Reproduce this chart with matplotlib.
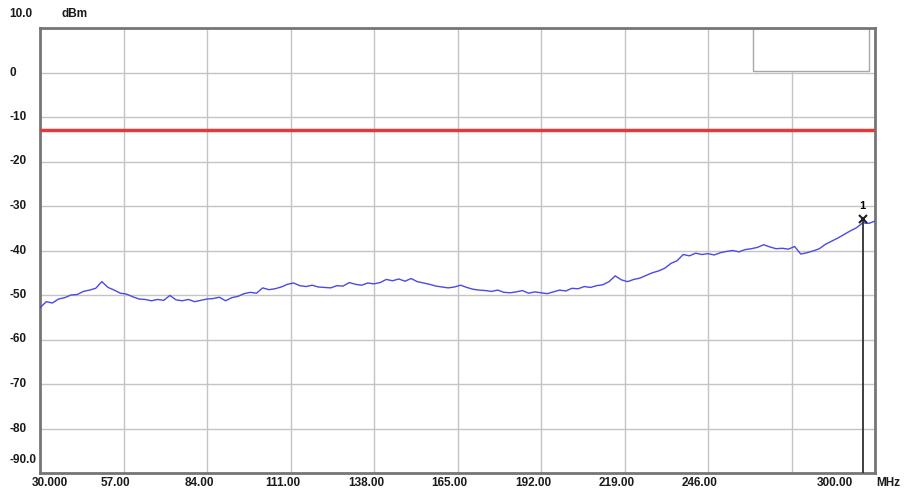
import numpy as np
import matplotlib
matplotlib.use("Agg")
import matplotlib.pyplot as plt
from matplotlib.patches import Rectangle
import matplotlib.transforms as mtransforms

# ---- data ----
freq_start, freq_stop, freq_step = 30.0, 300.0, 2.0
level_dbm = [
    -52.9, -51.5, -51.8, -50.9, -50.6, -50.0, -49.9, -49.2, -48.9, -48.5,
    -47.0, -48.3, -48.9, -49.6, -49.8, -50.4, -50.9, -51.0, -51.3, -51.0,
    -51.2, -50.1, -51.1, -51.3, -51.0, -51.5, -51.2, -50.9, -50.8, -50.5,
    -51.3, -50.6, -50.3, -49.7, -49.4, -49.6, -48.4, -48.8, -48.6, -48.2,
    -47.6, -47.3, -47.9, -48.1, -47.8, -48.2, -48.3, -48.4, -47.9, -48.0,
    -47.2, -47.6, -47.8, -47.3, -47.5, -47.2, -46.5, -46.8, -46.4, -46.9,
    -46.3, -47.0, -47.3, -47.6, -48.0, -48.2, -48.4, -48.2, -47.8, -48.3,
    -48.7, -48.9, -49.0, -49.2, -48.9, -49.4, -49.5, -49.3, -49.0, -49.6,
    -49.3, -49.5, -49.7, -49.3, -48.9, -49.1, -48.5, -48.6, -48.1, -48.3,
    -47.9, -47.7, -47.0, -45.7, -46.6, -47.0, -46.5, -46.2, -45.6, -45.0,
    -44.6, -44.0, -42.9, -42.3, -40.9, -41.2, -40.6, -40.9, -40.7, -41.0,
    -40.5, -40.2, -40.0, -40.3, -39.8, -39.6, -39.3, -38.7, -39.2, -39.6,
    -39.5, -39.7, -39.1, -40.8, -40.5, -40.1, -39.6, -38.6, -37.9, -37.2,
    -36.4, -35.6, -34.9, -33.8, -33.9, -33.4,
]
limit_dbm = -13.0
marker_freq = 296.0
marker_level = -32.9
marker_label = "1"

x_ticks = [30, 57, 84, 111, 138, 165, 192, 219, 246, 273, 300]
x_labels = ["30.000", "57.00", "84.00", "111.00", "138.00", "165.00",
            "192.00", "219.00", "246.00", "", "300.00"]
y_ticks = [10, 0, -10, -20, -30, -40, -50, -60, -70, -80, -90]
y_labels = ["10.0", "0", "-10", "-20", "-30", "-40", "-50", "-60", "-70", "-80", "-90.0"]
x_unit = "MHz"
y_unit = "dBm"

freqs = np.arange(freq_start, freq_stop + freq_step / 2, freq_step)

# ---- figure ----
W, H = 905, 493
fig = plt.figure(figsize=(W / 100, H / 100), dpi=100)
fig.patch.set_facecolor("white")
ax = fig.add_axes([40 / W, (H - 473) / H, 835 / W, 445 / H])
ax.set_xlim(freq_start, freq_stop)
ax.set_ylim(-90, 10)

grid_c = "#c4c4c4"
for xv in x_ticks[1:-1]:
    ax.axvline(xv, color=grid_c, lw=1.0, zorder=1)
for yv in y_ticks[1:-1]:
    ax.axhline(yv, color=grid_c, lw=1.0, zorder=1)

for s in ax.spines.values():
    s.set_color("#757575")
    s.set_linewidth(2.0)
ax.set_xticks([])
ax.set_yticks([])

# legend-like empty box
ax.add_patch(Rectangle((0.854, 0.903), 0.139, 0.097, transform=ax.transAxes,
                       facecolor="white", edgecolor="#a8a8a8", lw=1.0, zorder=2))

# limit line
ax.axhline(limit_dbm, color="#e03a3a", lw=2.5, zorder=3)

# trace
ax.plot(freqs, level_dbm, color="#4a4ae6", lw=1.0, zorder=4)

# marker
ax.plot([marker_freq, marker_freq], [-90, marker_level], color="#303030", lw=1.3, zorder=5)
ax.plot([marker_freq], [marker_level], marker="x", color="#202020", ms=6, mew=1.5, zorder=6)
ax.annotate(marker_label, (marker_freq, marker_level), xytext=(0, 6), textcoords="offset points",
            ha="center", va="bottom", fontsize=8, fontweight="bold", family="Liberation Sans")

font = dict(family="Liberation Sans", fontweight="bold", fontsize=8.5, color="#1a1a1a")

# y labels
ytrans = mtransforms.blended_transform_factory(fig.transFigure, ax.transData)
for yv, lab in zip(y_ticks, y_labels):
    dy = 0
    if yv == y_ticks[0]:
        dy = 14
    elif yv == y_ticks[-1]:
        dy = 13
    off = mtransforms.ScaledTranslation(0, dy / 100, fig.dpi_scale_trans)
    ax.text(9 / W, yv, lab, transform=ytrans + off, ha="left", va="center", clip_on=False, **font)
fig.text(62 / W, (H - 14) / H, y_unit, ha="left", va="center", **font)

# x labels
xtrans = mtransforms.blended_transform_factory(ax.transData, fig.transFigure)
for xv, lab in zip(x_ticks, x_labels):
    if not lab:
        continue
    dx = -8
    if xv == x_ticks[0]:
        dx = 10
    elif xv == x_ticks[-1]:
        dx = -40
    off = mtransforms.ScaledTranslation(dx / 100, 0, fig.dpi_scale_trans)
    ax.text(xv, (H - 483) / H, lab, transform=xtrans + off, ha="center", va="center", clip_on=False, **font)
fig.text(888 / W, (H - 483) / H, x_unit, ha="center", va="center", **font)

fig.savefig("out.png", dpi=100)
